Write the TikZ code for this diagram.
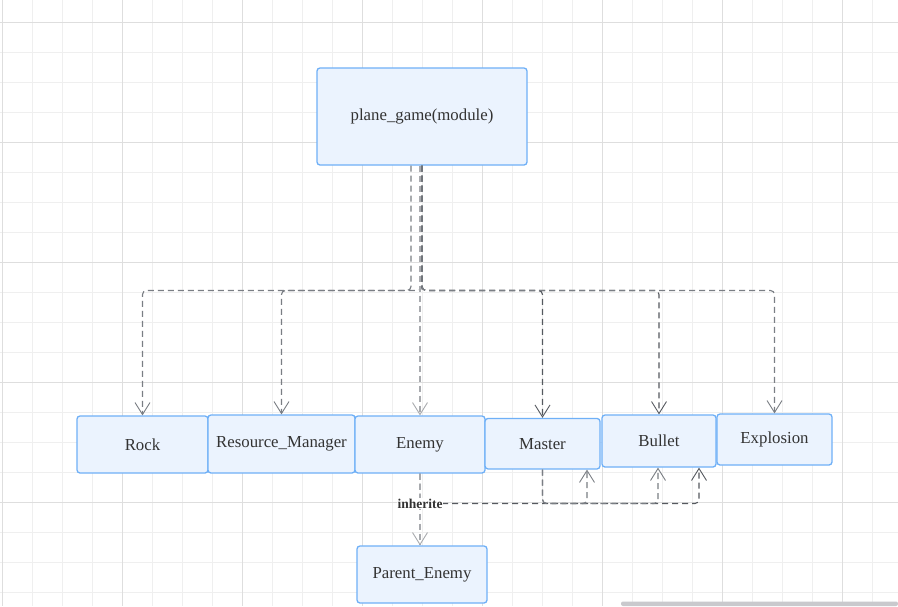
\documentclass[tikz,border=0pt]{standalone}
\usepackage{fontspec}
\setmainfont{Liberation Serif}
\usetikzlibrary{arrows.meta,calc}
\definecolor{nodefill}{HTML}{EBF3FE}
\definecolor{nodeline}{HTML}{6FB0F7}
\definecolor{txt}{HTML}{333333}
\definecolor{gridminor}{HTML}{EFEFEF}
\definecolor{gridmajor}{HTML}{DEDEDE}
\definecolor{edgedark}{HTML}{55595F}
\definecolor{edgemid}{HTML}{7A7E84}
\definecolor{edgelight}{HTML}{A8AAAE}
\definecolor{scroll}{HTML}{C9C9CD}
\begin{document}
\begin{tikzpicture}[x=1pt,y=-1pt,
  box/.style={draw=nodeline, line width=1.3pt, fill=nodefill, rounded corners=3pt,
    inner sep=0pt, text=txt, font=\fontsize{16.8}{19}\selectfont},
  conn/.style={line width=1.1pt, dash pattern=on 6pt off 4pt, rounded corners=4pt,
    -{Straight Barb[length=12pt,width=15pt,line width=0.9pt]}},
  lbl/.style={fill=white, inner sep=1pt, text=txt, font=\bfseries\fontsize{13.5}{15}\selectfont}
]
\useasboundingbox (0,0) rectangle (898,606);
\fill[white] (0,0) rectangle (898,606);
% grid
\foreach \i in {0,...,29} \draw[gridminor, line width=0.9pt] (2.5+30*\i,0) -- (2.5+30*\i,606);
\foreach \j in {0,...,19} \draw[gridminor, line width=0.9pt] (0,22.5+30*\j) -- (898,22.5+30*\j);
\foreach \i in {0,...,7} \draw[gridmajor, line width=0.9pt] (2.5+120*\i,0) -- (2.5+120*\i,606);
\foreach \j in {0,...,4} \draw[gridmajor, line width=0.9pt] (0,22.5+120*\j) -- (898,22.5+120*\j);

% nodes
\node[box, minimum width=210pt, minimum height=97pt] (top) at (422,116.5) {plane\_game(module)};
\node[box, minimum width=131pt, minimum height=57pt] (rock) at (142.5,444.5) {Rock};
\node[box, minimum width=147pt, minimum height=58pt] (rm) at (281.5,444) {Resource\_Manager};
\node[box, minimum width=130pt, minimum height=57pt] (enemy) at (420,444.5) {Enemy};
\node[box, minimum width=115pt, minimum height=50.5pt] (master) at (542.5,443.7) {Master};
\node[box, minimum width=114pt, minimum height=52pt] (bullet) at (659,441) {Bullet};
\node[box, minimum width=115pt, minimum height=51pt] (explosion) at (774.5,439.5) {Explosion};
\node[box, minimum width=130pt, minimum height=57pt] (parent) at (422,574.5) {Parent\_Enemy};

% helper coordinates
\coordinate (bus) at (422,290.5);
\coordinate (lowbus) at (420,503.5);
\coordinate (ts1) at ([xshift=-11pt]top.south);
\coordinate (bs1) at ([xshift=40pt]bullet.south);
\coordinate (bs2) at ([xshift=-1pt]bullet.south);
\coordinate (ms1) at ([xshift=44.5pt]master.south);

% top connectors
\draw[conn, edgemid] (ts1) -- (ts1 |- bus) -| (rock.north);
\draw[conn, edgemid] (top.south) -- (top.south |- bus) -| (rm.north);
\draw[conn, edgedark] (top.south) -- (top.south |- bus) -| (master.north);
\draw[conn, edgedark] (top.south) -- (top.south |- bus) -| (bullet.north);
\draw[conn, edgemid] (top.south) -- (top.south |- bus) -| (explosion.north);
\draw[conn, edgelight] (enemy.north |- top.south) -- (enemy.north);

% bottom connectors
\draw[conn, edgedark] (enemy.south) -- (enemy.south |- lowbus) -| (bs1);
\draw[conn, edgemid] (master.south) -- (master.south |- lowbus) -| (ms1);
\draw[conn, edgemid] (master.south) -- (master.south |- lowbus) -| (bs2);
\draw[conn, edgelight] (enemy.south) -- (enemy.south |- parent.north);
\node[lbl] (lab) at (lowbus) {inherite};

% scrollbar
\fill[scroll, rounded corners=2pt] (621,601.5) rectangle (898,606);
\end{tikzpicture}
\end{document}
